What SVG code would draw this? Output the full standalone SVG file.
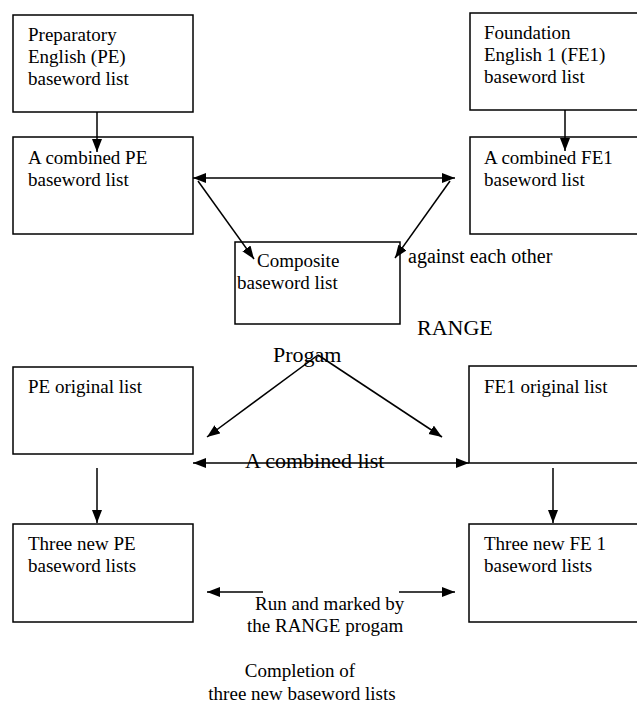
<svg xmlns="http://www.w3.org/2000/svg" width="637" height="706" viewBox="0 0 637 706">
<style>
.box{fill:#fff;stroke:#000;stroke-width:1.5}
.ln{fill:none;stroke:#000;stroke-width:1.5}
text{font-family:"Liberation Serif","Times New Roman",serif;font-size:19px;fill:#000}
.big{font-size:22px}
.mid{font-size:20px}
</style>
<defs>
<marker id="ah" markerUnits="userSpaceOnUse" markerWidth="14" markerHeight="11" refX="13" refY="5" orient="auto-start-reverse">
<path d="M0,0 L13,5 L0,10 z" fill="#000"/>
</marker>
</defs>
<rect width="637" height="706" fill="#fff"/>
<g id="node-pe">
<rect class="box" x="13" y="15" width="180" height="97"/>
<text x="28" y="41">Preparatory</text>
<text x="28" y="63">English (PE)</text>
<text x="28" y="85">baseword list</text>
</g>
<g id="node-fe1">
<rect class="box" x="470" y="13" width="180" height="97"/>
<text x="484" y="39">Foundation</text>
<text x="484" y="61">English 1 (FE1)</text>
<text x="484" y="83">baseword list</text>
</g>
<g id="node-pe-combined">
<rect class="box" x="13" y="137" width="180" height="97"/>
<text x="28" y="164">A combined PE</text>
<text x="28" y="186">baseword list</text>
</g>
<g id="node-fe1-combined">
<rect class="box" x="470" y="137" width="180" height="97"/>
<text x="484" y="164">A combined FE1</text>
<text x="484" y="186">baseword list</text>
</g>
<g id="node-composite">
<rect class="box" x="235" y="242" width="165" height="82"/>
<text x="257" y="267">Composite</text>
<text x="237" y="289">baseword list</text>
</g>
<g id="node-pe-original">
<rect class="box" x="13" y="367" width="180" height="87"/>
<text x="28" y="393">PE original list</text>
</g>
<g id="node-fe1-original">
<rect class="box" x="469" y="366" width="180" height="97"/>
<text x="484" y="393">FE1 original list</text>
</g>
<g id="node-pe-new">
<rect class="box" x="13" y="524" width="180" height="98"/>
<text x="28" y="550">Three new PE</text>
<text x="28" y="572">baseword lists</text>
</g>
<g id="node-fe1-new">
<rect class="box" x="469" y="524" width="180" height="98"/>
<text x="484" y="550">Three new FE 1</text>
<text x="484" y="572">baseword lists</text>
</g>
<g id="labels">
<text class="mid" x="408" y="263">against each other</text>
<text class="big" x="417" y="335">RANGE</text>
<text class="big" x="273" y="362">Progam</text>
<text class="big" x="245" y="468">A combined list</text>
<text x="255" y="610">Run and marked by</text>
<text x="247" y="632">the RANGE progam</text>
<text x="300" y="677" text-anchor="middle">Completion of</text>
<text x="302" y="700" text-anchor="middle">three new baseword lists</text>
</g>
<g id="connectors">
<line class="ln" x1="97" y1="112" x2="97" y2="152" marker-end="url(#ah)"/>
<line class="ln" x1="565" y1="110" x2="565" y2="151" marker-end="url(#ah)"/>
<line class="ln" x1="193" y1="178" x2="455" y2="178" marker-start="url(#ah)" marker-end="url(#ah)"/>
<line class="ln" x1="198" y1="181" x2="254" y2="259" marker-end="url(#ah)"/>
<line class="ln" x1="450" y1="181" x2="395" y2="258" marker-end="url(#ah)"/>
<line class="ln" x1="318" y1="355" x2="207" y2="437" marker-end="url(#ah)"/>
<line class="ln" x1="318" y1="355" x2="442" y2="437" marker-end="url(#ah)"/>
<line class="ln" x1="193" y1="463" x2="469" y2="463" marker-start="url(#ah)" marker-end="url(#ah)"/>
<line class="ln" x1="97" y1="468" x2="97" y2="523" marker-end="url(#ah)"/>
<line class="ln" x1="553" y1="468" x2="553" y2="523" marker-end="url(#ah)"/>
<line class="ln" x1="263" y1="592" x2="207" y2="592" marker-end="url(#ah)"/>
<line class="ln" x1="399" y1="592" x2="455" y2="592" marker-end="url(#ah)"/>
</g>
</svg>
